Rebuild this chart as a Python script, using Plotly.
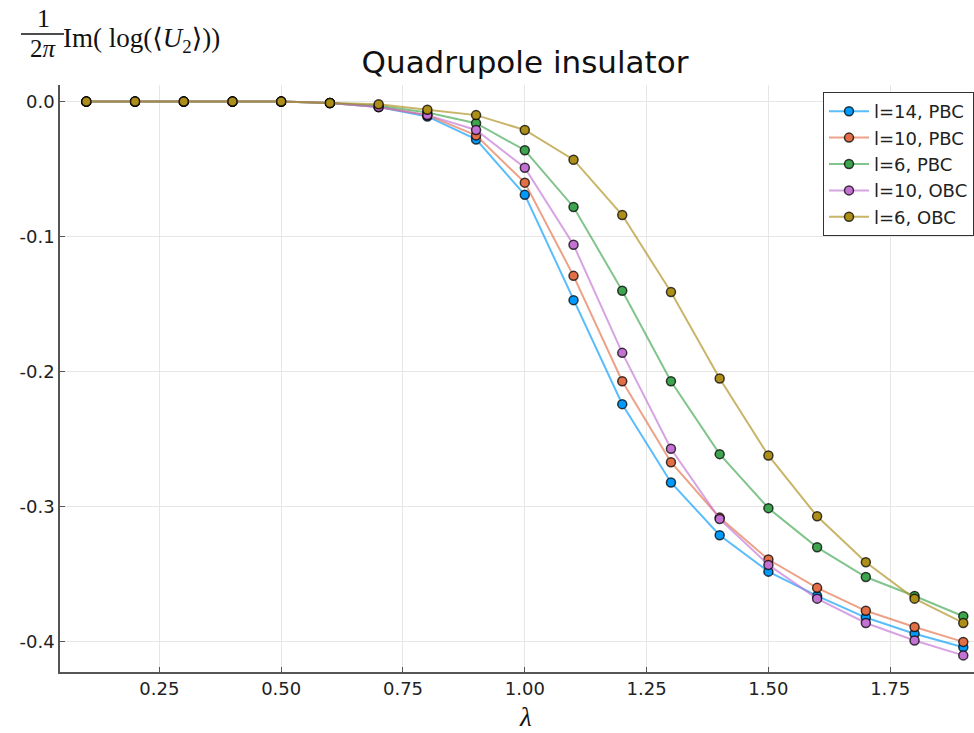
import plotly.graph_objects as go

lam = [0.1, 0.2, 0.3, 0.4, 0.5, 0.6, 0.7, 0.8, 0.9, 1.0,
       1.1, 1.2, 1.3, 1.4, 1.5, 1.6, 1.7, 1.8, 1.9]

l14_pbc = [0, 0, 0, 0, 0, -0.001, -0.004, -0.011, -0.028, -0.069,
           -0.147, -0.224, -0.282, -0.321, -0.348, -0.366, -0.382, -0.394, -0.404]
l10_pbc = [0, 0, 0, 0, 0, -0.001, -0.004, -0.010, -0.025, -0.060,
           -0.129, -0.207, -0.267, -0.308, -0.339, -0.360, -0.377, -0.389, -0.400]
l6_pbc = [0, 0, 0, 0, 0, -0.001, -0.003, -0.008, -0.016, -0.036,
          -0.078, -0.140, -0.207, -0.261, -0.301, -0.330, -0.352, -0.366, -0.381]
l10_obc = [0, 0, 0, 0, 0, -0.001, -0.004, -0.010, -0.021, -0.049,
           -0.106, -0.186, -0.257, -0.309, -0.343, -0.368, -0.386, -0.399, -0.410]
l6_obc = [0, 0, 0, 0, 0, -0.001, -0.002, -0.006, -0.010, -0.021,
          -0.043, -0.084, -0.141, -0.205, -0.262, -0.307, -0.341, -0.368, -0.386]

series_names = ["l=14, PBC", "l=10, PBC", "l=6, PBC", "l=10, OBC", "l=6, OBC"]
series_values = [l14_pbc, l10_pbc, l6_pbc, l10_obc, l6_obc]
series_colors = ["#009AFA", "#E36F47", "#3EA44E", "#C371D2", "#AC8E18"]

x_ticks = [0.25, 0.5, 0.75, 1.0, 1.25, 1.5, 1.75]
x_tick_labels = ["0.25", "0.50", "0.75", "1.00", "1.25", "1.50", "1.75"]
y_ticks = [0.0, -0.1, -0.2, -0.3, -0.4]
y_tick_labels = ["0.0", "-0.1", "-0.2", "-0.3", "-0.4"]


def rgba(hexc, a):
    h = hexc.lstrip("#")
    r, g, b = int(h[0:2], 16), int(h[2:4], 16), int(h[4:6], 16)
    return f"rgba({r},{g},{b},{a})"


fig = go.Figure()
for name, vals, col in zip(series_names, series_values, series_colors):
    fig.add_trace(go.Scatter(
        x=lam, y=vals, name=name, mode="lines+markers",
        line=dict(color=rgba(col, 0.65), width=2),
        marker=dict(color=col, size=9, line=dict(color="rgba(0,0,0,0.75)", width=1.5)),
    ))

W, H = 974, 733
L, R, T, B = 60, 974, 85, 672


def px(x):
    return (x - L) / (R - L)


def py(y):
    return (B - y) / (B - T)


serif = "Liberation Serif, DejaVu Serif, serif"
sans = "DejaVu Sans, sans-serif"

annotations = [
    dict(text="1", x=px(43), y=py(19), font=dict(family=serif, size=26, color="#111")),
    dict(text="2<i>π</i>", x=px(43), y=py(49), font=dict(family=serif, size=25, color="#111")),
    dict(text="Im( log(⟨<i>U</i><sub>2</sub>⟩))", x=px(61), y=py(40), xanchor="left",
         font=dict(family=serif, size=27, color="#111")),
    dict(text="<i>λ</i>", x=px(525), y=py(717), font=dict(family=serif, size=27, color="#111")),
]
for a in annotations:
    a.setdefault("xanchor", "center")
    a.update(xref="paper", yref="paper", yanchor="middle", showarrow=False)

fig.update_layout(
    width=W, height=H,
    margin=dict(l=L, r=W - R, t=T, b=H - B),
    paper_bgcolor="white", plot_bgcolor="white",
    title=dict(text="Quadrupole insulator", x=px(525), xref="paper", xanchor="center",
               y=1 - 62 / H, yanchor="middle",
               font=dict(family=sans, size=31, color="#111")),
    font=dict(family=sans, color="#222"),
    showlegend=True,
    legend=dict(x=1, xanchor="right", y=py(92), yanchor="top",
                bordercolor="#333", borderwidth=1, bgcolor="white",
                itemwidth=40,
                font=dict(family=sans, size=18, color="#222")),
    annotations=annotations,
    shapes=[dict(type="line", xref="paper", yref="paper",
                 x0=px(21), x1=px(64), y0=py(34), y1=py(34),
                 line=dict(color="#111", width=1.3))],
)
fig.update_xaxes(
    range=[0.046, 1.922], tickvals=x_ticks, ticktext=x_tick_labels,
    showgrid=True, gridcolor="#e6e6e6", gridwidth=1,
    showline=True, linecolor="#555", linewidth=1.5,
    ticks="inside", ticklen=5, tickcolor="#555",
    tickfont=dict(family=sans, size=18, color="#222"), zeroline=False,
)
fig.update_yaxes(
    range=[-0.4223, 0.0123], tickvals=y_ticks, ticktext=y_tick_labels,
    showgrid=True, gridcolor="#e6e6e6", gridwidth=1,
    showline=True, linecolor="#555", linewidth=1.5,
    ticks="inside", ticklen=5, tickcolor="#555",
    tickfont=dict(family=sans, size=18, color="#222"), zeroline=False,
)

fig.write_html("out.html", config={"displayModeBar": False},
               post_script="document.body.style.margin='0';document.body.style.overflow='hidden';")
